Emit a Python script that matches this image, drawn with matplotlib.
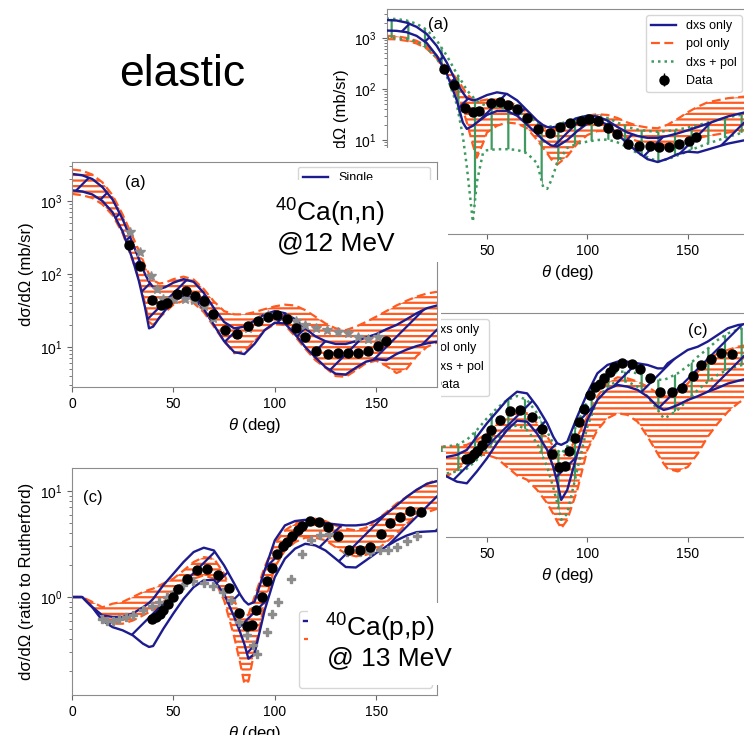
import matplotlib
matplotlib.use('Agg')
import matplotlib.pyplot as plt
from matplotlib.patches import Rectangle

plt.rcParams['font.family'] = ['Liberation Sans', 'DejaVu Sans']
plt.rcParams['mathtext.fontset'] = 'custom'
plt.rcParams['mathtext.rm'] = 'Liberation Sans'
plt.rcParams['mathtext.it'] = 'Liberation Sans:italic'
plt.rcParams['mathtext.bf'] = 'Liberation Sans:bold'
plt.rcParams['mathtext.default'] = 'regular'
plt.rcParams['hatch.linewidth'] = 1.6

# ---------------- data ----------------
# Panel B : 40Ca(n,n) @ 12 MeV (middle left)
thB = [0, 5, 10, 15, 20, 25, 30, 33, 36, 38, 40, 43, 46, 50, 55, 60, 65, 70, 75, 80,
       85, 90, 95, 100, 105, 110, 115, 120, 125, 130, 135, 140, 145, 150, 155, 160, 165, 170, 175, 180]
B_blue_hi = [2350, 2250, 2000, 1550, 1050, 560, 260, 160, 100, 78, 66, 62, 66, 76, 85, 78, 55, 34, 22, 18,
             19, 23, 28, 31, 29, 24, 18, 14, 12, 11, 11, 12, 13.5, 15, 17.5, 20, 24, 29, 34, 37]
B_blue_lo = [1400, 1350, 1230, 1000, 700, 380, 155, 80, 35, 18, 19, 25, 32, 42, 50, 46, 33, 20, 12, 8.5,
             8, 11, 17, 21.5, 21, 15, 10, 7.2, 5.3, 4.3, 4.2, 5.2, 6.3, 6.8, 6.6, 8.0, 9.2, 10.3, 11.2, 11.8]
B_or_hi = [2700, 2600, 2300, 1800, 1200, 650, 320, 210, 130, 100, 82, 74, 76, 85, 92, 84, 62, 42, 31, 28,
           28, 30, 33, 36, 38, 37, 32, 26, 21, 18, 17, 19, 22, 26, 31, 37, 43, 49, 54, 57]
B_or_lo = [1250, 1200, 1100, 900, 640, 360, 150, 85, 40, 22, 20, 25, 30, 38, 43, 40, 30, 19, 12, 8.2,
           8.8, 12, 17, 20.5, 20, 14, 9.5, 6.6, 5.2, 4.0, 3.9, 4.8, 6.0, 6.5, 5.5, 4.4, 5.0, 7.5, 10, 11.5]
B_data_th = [28.3, 33.5, 39.5, 43.9, 46.7, 51.8, 56.1, 60.5, 64.9, 69.7, 75.6, 81.5, 87.0, 91.6, 96.7,
             101.1, 105.9, 110.5, 115.1, 120.3, 126.1, 131.2, 136.0, 140.9, 146.0, 150.7, 154.7]
B_data_y = [249, 129, 44, 37.6, 40.5, 54, 59, 50.5, 43, 28, 17, 15, 19.4, 23, 26,
            27, 24, 18, 13.6, 8.9, 8.0, 8.4, 8.2, 8.2, 8.9, 10.4, 12.2]
B_star_th = [28.6, 33.5, 38.8, 41.8, 45.0, 50.3, 55.9, 60.3, 65.0, 69.7, 75.6, 81.5, 87.0, 92.0, 96.7,
             101.0, 105.9, 110.5, 115.0, 120.3, 125.6, 131.0, 136.0, 141.0, 146.0, 150.7]
B_star_y = [380, 202, 94, 63, 46, 45, 46, 44, 36, 24.6, 17, 15, 18, 23.5, 27,
            27, 25, 23, 20, 18, 17, 16.2, 15.5, 13.8, 12.8, 13.8]

# Panel C : 40Ca(p,p) @ 13 MeV (bottom left), ratio to Rutherford
thC = [0, 5, 10, 15, 20, 25, 30, 35, 38, 40, 45, 50, 55, 60, 65, 70, 75, 80, 83, 85,
       87, 90, 95, 100, 105, 110, 115, 120, 125, 130, 135, 140, 145, 150, 155, 160, 165, 170, 175, 180]
C_blue_hi = [1.0, 1.0, 0.805, 0.67, 0.65, 0.65, 0.70, 0.80, 0.88, 0.96, 1.29, 1.66, 2.14, 2.66, 2.92, 2.75, 1.99, 1.34, 1.05, 0.92,
             0.85, 0.9, 1.78, 3.42, 4.74, 5.21, 5.35, 5.2, 4.98, 4.85, 4.74, 4.74, 4.85, 5.3, 6.1, 7.3, 8.8, 10.3, 11.7, 12.4]
C_blue_lo = [1.0, 1.0, 0.8, 0.60, 0.52, 0.485, 0.435, 0.363, 0.338, 0.345, 0.50, 0.70, 0.96, 1.24, 1.44, 1.45, 1.07, 0.65, 0.46, 0.36,
             0.262, 0.29, 0.75, 1.54, 2.3, 2.86, 3.18, 3.07, 2.75, 2.3, 1.92, 1.9, 2.22, 2.6, 3.0, 3.42, 3.8, 4.1, 4.15, 4.2]
C_or_hi = [1.0, 1.0, 0.9, 0.80, 0.865, 0.9, 1.0, 1.115, 1.17, 1.2, 1.34, 1.49, 1.78, 2.14, 2.38, 2.30, 1.66, 0.93, 0.70, 0.65,
           0.68, 1.0, 1.92, 3.18, 4.25, 4.92, 5.3, 5.48, 5.2, 4.74, 4.41, 4.25, 4.5, 5.3, 6.3, 7.6, 8.8, 10.2, 11.7, 12.8]
C_or_lo = [1.0, 1.0, 0.8, 0.66, 0.56, 0.56, 0.60, 0.67, 0.72, 0.75, 0.90, 1.07, 1.29, 1.49, 1.6, 1.49, 0.93, 0.42, 0.235, 0.152,
           0.16, 0.31, 0.865, 1.92, 2.75, 3.3, 3.63, 3.63, 3.43, 2.96, 2.56, 2.42, 2.5, 2.75, 3.3, 3.96, 4.92, 5.9, 6.3, 6.8]
pp_data_th = [39.5, 41.4, 43.4, 45.0, 47.5, 49.6, 52.1, 56.6, 61.5, 66.7, 72.2, 77.3, 82.4, 86.1, 88.8, 90.7, 93.9, 96.0, 98.5,
              101.3, 103.9, 106.2, 108.3, 111.3, 113.3, 117.4, 122.0, 126.3, 131.2, 136.4, 142.0, 147.0, 152.4, 156.8,
              161.8, 166.7, 172.0]
pp_data_y = [0.625, 0.647, 0.697, 0.748, 0.865, 1.0, 1.2, 1.49, 1.81, 1.85, 1.6, 1.22, 0.706, 0.529, 0.544, 0.748, 1.01, 1.42,
             1.89, 2.56, 3.03, 3.28, 3.73, 4.26, 4.71, 5.21, 5.06, 4.54, 3.73, 2.76, 2.76, 2.96, 3.9, 4.99, 5.69, 6.43, 6.34]
pp_data_err = [0.03, 0.03, 0.03, 0.03, 0.04, 0.04, 0.05, 0.06, 0.07, 0.07, 0.06, 0.05, 0.03, 0.02, 0.02, 0.03, 0.04, 0.06,
               0.08, 0.1, 0.12, 0.13, 0.15, 0.17, 0.19, 0.21, 0.2, 0.18, 0.15, 0.11, 0.11, 0.12, 0.16, 0.2, 0.23, 0.26, 0.25]
C_star_th = [14.6, 17.4, 20.4, 23.3, 26.6, 30.2, 35.2, 39.3, 43.0, 46.7, 50.3, 54.6, 59.5, 65.1, 69.7, 74.3, 78.3, 82.5,
             86.1, 89.4, 91.0, 96.0, 98.5, 101.8, 107.8, 113.3, 117.7, 122.3, 126.7, 135.8, 142.0, 147.0, 152.0, 156.0,
             160.4, 165.4, 170.3]
C_star_y = [0.625, 0.594, 0.60, 0.625, 0.647, 0.67, 0.75, 0.816, 0.897, 1.0, 1.11, 1.29, 1.41, 1.36, 1.26, 1.11, 0.93, 0.58,
            0.435, 0.35, 0.29, 0.467, 0.696, 0.897, 1.49, 2.53, 3.47, 3.81, 3.96, 2.66, 2.66, 2.66, 2.76, 2.76,
            2.96, 3.37, 3.73]

# Panel A : (n,n) three fits (top right)
thA = [0, 5, 10, 15, 20, 25, 30, 35, 38, 40, 43, 45, 48, 50, 55, 60, 65, 70, 75, 78,
       80, 82, 85, 90, 95, 100, 105, 110, 115, 120, 125, 130, 135, 140, 145, 150, 155, 160, 170, 180]
A_blue_hi = [2250, 2200, 2000, 1650, 1200, 700, 330, 130, 85, 66, 60, 62, 70, 76, 86, 80, 60, 38, 24, 19.5,
             18, 17.5, 18.5, 22, 27, 30, 29, 24, 18, 14, 12, 11, 11, 12, 13.5, 15.5, 18, 21, 29, 36]
A_blue_lo = [1400, 1380, 1300, 1100, 800, 450, 200, 60, 22, 16.5, 19, 22, 27, 31, 37, 37, 30, 20, 13, 10,
             8.8, 7.8, 7.5, 10, 15, 21, 24, 20, 13, 8.5, 5.8, 4.2, 3.7, 4.3, 5.3, 5.9, 5.7, 6.5, 8.5, 10.2]
A_or_hi = [1100, 1080, 1000, 880, 700, 450, 260, 160, 105, 80, 62, 58, 60, 62, 62, 57, 48, 35, 23, 18,
           16.5, 16, 17, 20, 25, 30, 32, 31, 27, 22, 19, 17.5, 17, 20, 26, 35, 45, 55, 66, 72]
A_or_lo = [950, 940, 880, 780, 620, 400, 200, 80, 40, 22, 8, 4.5, 8.5, 14, 19, 22, 21, 17, 10, 7,
           5.5, 4.2, 3.3, 4.8, 8.5, 12.5, 15, 15, 13.5, 11, 9.5, 8.5, 8, 8.2, 9, 10, 11, 12, 14, 16]
A_gr_hi = [2400, 2350, 2200, 1900, 1450, 900, 450, 200, 130, 95, 70, 58, 50, 47, 44, 41, 36, 29, 22, 19,
           18.5, 18.5, 20, 23, 27, 30, 30, 27, 22, 18, 16, 15, 14.5, 15, 16, 17.5, 19.5, 22, 28, 33]
A_gr_lo = [1000, 990, 950, 850, 650, 400, 180, 50, 12, 3, 0.25, 1.5, 5.5, 6.3, 6.6, 6.6, 6.4, 5.5, 3.5, 1.2,
           1.1, 1.6, 3.5, 7.0, 8.5, 9.3, 10, 10.2, 9, 7.2, 5.5, 4.6, 3.8, 4.2, 5, 6, 7.2, 8.5, 11.5, 15]
A_data_th = [28.8, 33.7, 39.0, 43.2, 46.2, 52.0, 56.5, 60.6, 65.1, 70.1, 75.6, 81.4, 86.3, 91.6, 96.6,
             100.9, 105.5, 110.2, 114.8, 120.3, 125.8, 131.1, 135.8, 140.7, 145.7, 150.6, 154.3]
A_data_y = [247, 120, 41.8, 36, 37.6, 52, 56.5, 48.5, 40, 26.6, 16.2, 13.5, 17.7, 21.2, 24,
            25.4, 24, 17, 13.1, 8.4, 7.6, 7.6, 7.4, 7.4, 8.4, 9.7, 11.6]
A_data_err = [15, 7, 2.5, 2.2, 2.3, 3.1, 3.4, 2.9, 2.4, 1.6, 1.0, 0.8, 1.1, 1.3, 1.4,
              1.5, 1.4, 1.0, 0.8, 0.5, 0.5, 0.5, 0.5, 0.5, 0.5, 0.6, 0.7]

# Panel C' : (p,p) three fits (right middle)
thD = [25, 30, 35, 40, 45, 50, 55, 60, 65, 70, 75, 80, 83, 85, 87, 90, 95, 100, 105, 110,
       115, 120, 125, 130, 135, 138, 140, 145, 150, 155, 160, 165, 170, 175, 180]
D_blue_hi = [0.65, 0.66, 0.69, 0.77, 1.03, 1.38, 1.78, 2.3, 2.76, 2.66, 1.99, 1.38, 1.03, 0.89, 0.86, 0.92, 1.6, 2.66, 4.13, 4.96,
             5.33, 5.33, 5.14, 4.96, 4.6, 4.6, 5.14, 5.95, 6.9, 7.4, 8.3, 9.6, 11.1, 11.9, 12.3]
D_blue_lo = [0.47, 0.43, 0.384, 0.37, 0.48, 0.64, 0.89, 1.19, 1.46, 1.43, 1.1, 0.77, 0.53, 0.38, 0.257, 0.32, 0.71, 1.48, 2.3, 2.9,
             3.2, 3.08, 2.87, 2.48, 1.99, 1.85, 1.89, 2.06, 2.3, 2.5, 2.76, 3.0, 3.3, 3.5, 3.7]
D_or_hi = [0.82, 0.83, 0.83, 0.86, 0.96, 1.1, 1.38, 1.66, 1.78, 1.72, 1.38, 1.03, 0.83, 0.71, 0.66, 0.71, 1.03, 1.6, 2.48, 3.37,
           3.78, 3.7, 3.44, 3.08, 2.66, 2.51, 2.48, 2.76, 3.3, 4.28, 5.53, 6.4, 6.9, 7.4, 7.7]
D_or_lo = [0.58, 0.43, 0.50, 0.6, 0.69, 0.69, 0.64, 0.53, 0.44, 0.40, 0.32, 0.239, 0.19, 0.16, 0.138, 0.166, 0.32, 0.77, 1.19, 1.54,
           1.72, 1.66, 1.43, 1.03, 0.71, 0.57, 0.51, 0.48, 0.53, 0.71, 1.03, 1.38, 1.78, 2.14, 2.48]
D_gr_hi = [0.82, 0.83, 0.86, 0.96, 1.19, 1.54, 1.92, 2.3, 2.51, 2.3, 1.72, 1.15, 0.89, 0.77, 0.71, 0.83, 1.38, 2.22, 3.2, 3.9,
           4.28, 4.28, 4.13, 3.9, 3.6, 3.57, 3.7, 4.13, 4.85, 5.95, 7.1, 8.6, 9.9, 10.8, 11.5]
D_gr_lo = [0.55, 0.46, 0.48, 0.51, 0.62, 0.77, 0.96, 1.19, 1.33, 1.19, 0.89, 0.53, 0.34, 0.24, 0.166, 0.19, 0.5, 1.28, 2.3, 3.08,
           3.5, 3.44, 3.08, 2.48, 1.85, 1.54, 1.6, 1.85, 2.3, 2.87, 3.44, 4.0, 4.5, 4.85, 5.1]

fit_labels = ['dxs only', 'pol only', 'dxs + pol', 'Data']
single_labels_B = ['Single', '', '', '']
single_labels_C = ['', '', '', '']
x_ticks = [0, 50, 100, 150]
x_ticks_right = [50, 100, 150]
y_ticks_A = [10, 100, 1000]

# ---------------- style ----------------
BLUE = '#1c1c8f'
ORANGE = '#ff5a1f'
GREEN = '#3f9a60'
STARC = '#8c8c8c'
SPINE = '0.55'
W, H = 744, 735


def box(x0, y0, x1, y1):
    return [x0 / W, 1 - y1 / H, (x1 - x0) / W, (y1 - y0) / H]


def cover(x0, y0, x1, y1, z):
    fig.add_artist(Rectangle((x0 / W, 1 - y1 / H), (x1 - x0) / W, (y1 - y0) / H,
                             transform=fig.transFigure, facecolor='white',
                             edgecolor='none', zorder=z))


def band(ax, th, lo, hi, color, hatch, ls, lw, z):
    ax.fill_between(th, lo, hi, facecolor='none', edgecolor=color, hatch=hatch,
                    linewidth=0, zorder=z)
    ax.plot(th, hi, color=color, ls=ls, lw=lw, zorder=z + 0.5)
    ax.plot(th, lo, color=color, ls=ls, lw=lw, zorder=z + 0.5)


def style(ax, ylim, ticks):
    ax.set_yscale('log')
    ax.set_xlim(0, 180)
    ax.set_ylim(*ylim)
    ax.set_xticks(ticks)
    for s in ax.spines.values():
        s.set_color(SPINE)
    ax.tick_params(labelsize=10, color='0.4', length=3.5)
    ax.tick_params(which='minor', color='0.4', length=2)
    ax.set_xlabel(r'$\mathit{\theta}$ (deg)', fontsize=12)


fig = plt.figure(figsize=(W / 100, H / 100), dpi=100)

DASH = (0, (4, 2))
DOT = (0, (1, 1.6))

# ---- Panel A (top right) ----
axA = fig.add_axes(box(386.5, 9, 748, 234))
axA.set_zorder(0)
style(axA, (0.1436, 3700), x_ticks_right)
axA.set_yticks(y_ticks_A)
axA.set_ylabel('dσ/dΩ (mb/sr)', fontsize=12)
band(axA, thA, A_or_lo, A_or_hi, ORANGE, '---', DASH, 1.6, 1)
band(axA, thA, A_gr_lo, A_gr_hi, GREEN, '|', DOT, 1.8, 2)
band(axA, thA, A_blue_lo, A_blue_hi, BLUE, '/', '-', 1.7, 3)
hb = axA.plot([], [], color=BLUE, lw=1.7)[0]
ho = axA.plot([], [], color=ORANGE, lw=1.6, ls=DASH)[0]
hg = axA.plot([], [], color=GREEN, lw=1.8, ls=DOT)[0]
hd = axA.errorbar(A_data_th, A_data_y, yerr=A_data_err, fmt='o', color='black', ms=6.5,
                  elinewidth=1, zorder=6)
axA.legend([hb, ho, hg, hd], fit_labels, loc='upper right', fontsize=9)
axA.text(0.1425, 0.933, '(a)', transform=axA.transAxes, fontsize=12, ha='center', va='center')

# ---- Panel C' (right middle) ----
axD = fig.add_axes(box(386.5, 313, 748, 537))
axD.set_zorder(0)
style(axD, (0.114, 15.5), x_ticks_right)
axD.set_yticklabels([], minor=False)
axD.set_yticklabels([], minor=True)
band(axD, thD, D_or_lo, D_or_hi, ORANGE, '---', DASH, 1.6, 1)
band(axD, thD, D_gr_lo, D_gr_hi, GREEN, '|', DOT, 1.8, 2)
band(axD, thD, D_blue_lo, D_blue_hi, BLUE, '/', '-', 1.7, 3)
hb2 = axD.plot([], [], color=BLUE, lw=1.7)[0]
ho2 = axD.plot([], [], color=ORANGE, lw=1.6, ls=DASH)[0]
hg2 = axD.plot([], [], color=GREEN, lw=1.8, ls=DOT)[0]
hd2 = axD.errorbar(pp_data_th, pp_data_y, yerr=pp_data_err, fmt='o', color='black', ms=6.5,
                   elinewidth=1, zorder=6)
axD.legend([hb2, ho2, hg2, hd2], fit_labels, loc='upper left', fontsize=9)
axD.text(0.862, 0.924, '(c)', transform=axD.transAxes, fontsize=12, ha='center', va='center')

# ---- white cover of the pasted left images ----
cover(0, 148, 448, 290, 1)
cover(0, 290, 441, 452, 1)
cover(0, 452, 446, 735, 1)

# ---- Panel B (middle left) ----
axB = fig.add_axes(box(72, 162, 437, 387))
axB.set_zorder(2)
style(axB, (2.83, 3420), x_ticks)
axB.set_ylabel('dσ/dΩ (mb/sr)', fontsize=12)
band(axB, thB, B_or_lo, B_or_hi, ORANGE, '---', DASH, 1.6, 1)
band(axB, thB, B_blue_lo, B_blue_hi, BLUE, '/', '-', 1.7, 2)
hBb = axB.plot([], [], color=BLUE, lw=1.7)[0]
hBo = axB.plot([], [], color=ORANGE, lw=1.6, ls=DASH)[0]
hBs = axB.plot(B_star_th, B_star_y, '*', color=STARC, ms=7, zorder=5)[0]
hBd = axB.plot(B_data_th, B_data_y, 'o', color='black', ms=6.5, zorder=6)[0]
axB.legend([hBb, hBo, hBd, hBs], single_labels_B, loc='upper left', fontsize=9,
           bbox_to_anchor=(0.619, 0.0, 0.362, 0.978), mode='expand', borderaxespad=0)
axB.text(0.173, 0.907, '(a)', transform=axB.transAxes, fontsize=12, ha='center', va='center')

# ---- Panel C (bottom left) ----
axC = fig.add_axes(box(72, 468, 437, 695))
axC.set_zorder(2)
style(axC, (0.119, 16.5), x_ticks)
axC.set_ylabel('dσ/dΩ (ratio to Rutherford)', fontsize=12)
band(axC, thC, C_or_lo, C_or_hi, ORANGE, '---', DASH, 1.6, 1)
band(axC, thC, C_blue_lo, C_blue_hi, BLUE, '/', '-', 1.7, 2)
hCb = axC.plot([], [], color=BLUE, lw=1.7)[0]
hCo = axC.plot([], [], color=ORANGE, lw=1.6, ls=DASH)[0]
hCs = axC.plot(C_star_th, C_star_y, 'P', color=STARC, ms=5.5, zorder=5)[0]
hCd = axC.plot(pp_data_th, pp_data_y, 'o', color='black', ms=6.5, zorder=6)[0]
axC.legend([hCb, hCo, hCd, hCs], single_labels_C, loc='lower left', fontsize=9,
           bbox_to_anchor=(0.622, 0.031, 0.364, 0.9), mode='expand', borderaxespad=0)
axC.text(0.0575, 0.872, '(c)', transform=axC.transAxes, fontsize=12, ha='center', va='center')

# ---- white boxes holding the reaction labels ----
cover(265, 180, 448, 262, 3)
cover(308, 603, 446, 685, 3)

fig.text(275 / W, 1 - 222 / H, r'$^{40}$Ca(n,n)', fontsize=19, ha='left', va='baseline', zorder=4)
fig.text(277 / W, 1 - 250 / H, '@12 MeV', fontsize=19, ha='left', va='baseline', zorder=4)
fig.text(325 / W, 1 - 637 / H, r'$^{40}$Ca(p,p)', fontsize=19, ha='left', va='baseline', zorder=4)
fig.text(327 / W, 1 - 665 / H, '@ 13 MeV', fontsize=19, ha='left', va='baseline', zorder=4)
fig.text(182 / W, 1 - 75 / H, 'elastic', fontsize=32, ha='center', va='center', zorder=4)

fig.savefig('out.png', dpi=100)
